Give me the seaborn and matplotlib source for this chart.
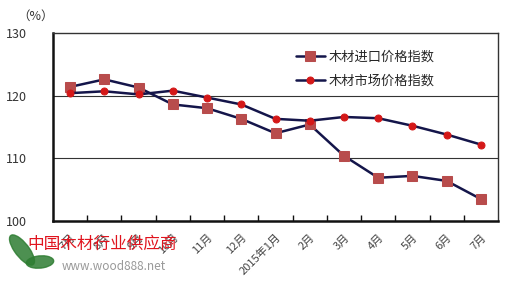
import matplotlib
matplotlib.use("Agg")
import matplotlib.pyplot as plt
import seaborn as sns
import pandas as pd
from matplotlib.patches import Ellipse
from matplotlib.ticker import FixedLocator

months = ["7月", "8月", "9月", "10月", "11月", "12月", "2015年1月",
          "2月", "3月", "4月", "5月", "6月", "7月"]
import_index = [121.4, 122.6, 121.3, 118.6, 118.0, 116.3, 114.0,
                115.4, 110.4, 106.9, 107.2, 106.4, 103.5]
market_index = [120.4, 120.7, 120.2, 120.8, 119.7, 118.6, 116.3,
                116.0, 116.6, 116.4, 115.2, 113.8, 112.2]
series_names = ["木材进口价格指数", "木材市场价格指数"]
y_ticks = [100, 110, 120, 130]

sns.set_theme(style="white")
plt.rcParams['font.family'] = ['Noto Sans CJK SC', 'DejaVu Sans']

pos = list(range(len(months)))
df = pd.DataFrame({"pos": pos, "imp": import_index, "mkt": market_index})

fig = plt.figure(figsize=(5.17, 2.83), dpi=100)
ax = fig.add_axes([53/517, 1-221/283, 445/517, 188/283])

line_col = "#14154a"
sns.lineplot(data=df, x="pos", y="imp", ax=ax, color=line_col, lw=1.8,
             marker="s", markersize=7.5, markerfacecolor="#b84c4c",
             markeredgecolor="#b84c4c", label=series_names[0])
sns.lineplot(data=df, x="pos", y="mkt", ax=ax, color=line_col, lw=1.8,
             marker="o", markersize=5, markerfacecolor="#d41818",
             markeredgecolor="#d41818", label=series_names[1])

ax.set_xlim(-0.5, len(months) - 0.5)
ax.set_ylim(100, 130)
ax.set_yticks(y_ticks)
ax.set_yticklabels([str(v) for v in y_ticks], fontsize=9, color="#333333")
ax.tick_params(axis="y", length=0, pad=19)
for v in y_ticks[1:-1]:
    ax.axhline(v, color="#333333", lw=0.8, zorder=0)

ax.set_xticks(pos)
ax.set_xticklabels(months, rotation=45, ha="right", rotation_mode="anchor",
                   fontsize=8, color="#444444")
ax.tick_params(axis="x", length=0, pad=8)
ax.xaxis.set_minor_locator(FixedLocator([p + 0.5 for p in pos[:-1]]))
ax.tick_params(axis="x", which="minor", direction="in", length=4, width=1,
               color="#111111", bottom=True)
ax.set_xlabel("")
ax.set_ylabel("")

for s in ["left", "bottom"]:
    ax.spines[s].set_linewidth(1.8)
    ax.spines[s].set_color("#111111")
for s in ["top", "right"]:
    ax.spines[s].set_linewidth(1.0)
    ax.spines[s].set_color("#333333")

leg = ax.legend(loc="upper right", bbox_to_anchor=(0.885, 0.97), frameon=False,
                fontsize=9.5, handlelength=2.2, labelspacing=0.85, handletextpad=0.3)

fig.text(17/517, 1-16/283, "（%）", fontsize=9, color="#333333", va="center")

# watermark
fig.text(27/517, 1-244/283, "中国木材行业供应商", fontsize=12, color="#e0141e",
         va="center", ha="left")
fig.text(62/517, 1-266/283, "www.wood888.net", fontsize=8.5, color="#999999",
         va="center", ha="left")
fig.patches.append(Ellipse((22/517, 1-250/283), 16/517, 32/283, angle=20,
                           color="#2e7d32", transform=fig.transFigure, alpha=0.85))
fig.patches.append(Ellipse((40/517, 1-262/283), 28/517, 12/283, angle=20,
                           color="#2e7d32", transform=fig.transFigure, alpha=0.85))

fig.savefig("out.png", dpi=100)
